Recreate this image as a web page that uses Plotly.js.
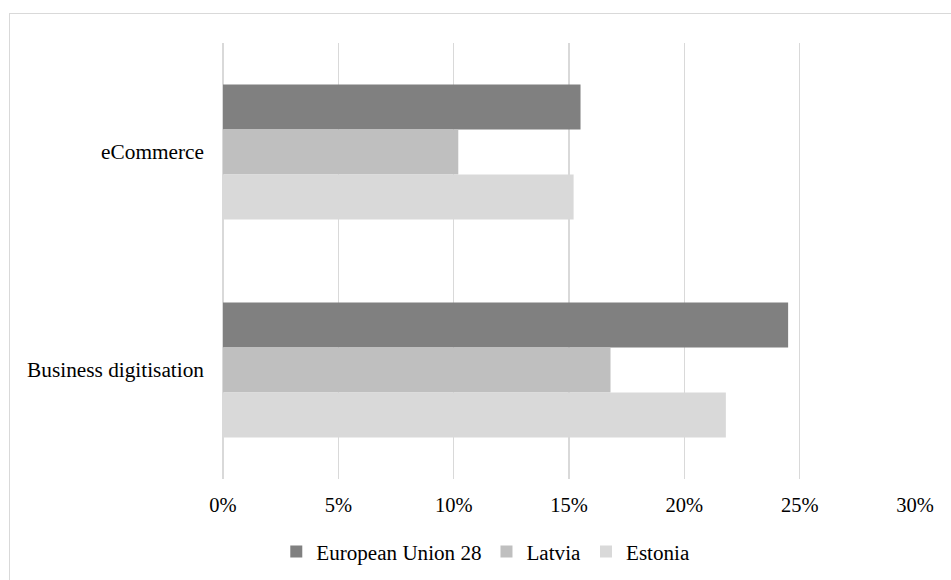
<!DOCTYPE html>
<html>
<head>
<meta charset="utf-8">
<script src="https://cdn.plot.ly/plotly-3.0.1.min.js"></script>
<style>
  html, body { margin: 0; padding: 0; background: #fff; }
  #wrap { position: relative; width: 951px; height: 580px; overflow: hidden; }
  #chart { position: absolute; left: 0; top: 0; width: 951px; height: 580px; }
  #frame { position: absolute; left: 9px; top: 13px; width: 1000px; height: 700px;
           border: 1.5px solid #d9d9d9; pointer-events: none; box-sizing: border-box; }
</style>
</head>
<body>
<div id="wrap">
  <div id="chart"></div>
  <div id="frame"></div>
</div>
<script>
const categories = ['eCommerce', 'Business digitisation'];
const seriesNames = ['European Union 28', 'Latvia', 'Estonia'];
const eu28 = [0.155, 0.245];
const latvia = [0.102, 0.168];
const estonia = [0.152, 0.218];
const tickVals = [0, 0.05, 0.10, 0.15, 0.20, 0.25, 0.30];
const tickText = ['0%', '5%', '10%', '15%', '20%', '25%', '30%'];

const colors = ['#808080', '#bfbfbf', '#d9d9d9'];
const values = [eu28, latvia, estonia];

const family = 'Liberation Serif, Times New Roman, serif';
const catFont = { family: family, size: 21.3, color: '#000' };
const legFont = { family: family, size: 21.1, color: '#000' };
const tickFont = { family: family, size: 20.5, color: '#000' };

const traces = values.map((v, i) => ({
  type: 'bar',
  orientation: 'h',
  name: seriesNames[i],
  y: categories,
  x: v,
  marker: { color: colors[i], line: { width: 0 } },
  hoverinfo: 'x+name'
}));

const layout = {
  width: 951,
  height: 580,
  margin: { l: 222.5, r: 35.5, t: 42.5, b: 101, pad: 0, autoexpand: false },
  paper_bgcolor: '#fff',
  plot_bgcolor: '#fff',
  font: catFont,
  barmode: 'group',
  bargap: 0.38,
  bargroupgap: 0,
  showlegend: true,
  legend: {
    orientation: 'h',
    x: 0.077,
    xanchor: 'left',
    y: -0.167,
    yanchor: 'middle',
    font: legFont,
    traceorder: 'normal',
    itemclick: false
  },
  xaxis: {
    range: [0, 0.30],
    tickvals: tickVals,
    ticktext: tickText,
    showgrid: true,
    gridcolor: '#d9d9d9',
    gridwidth: 1.5,
    zeroline: true,
    zerolinecolor: '#d9d9d9',
    zerolinewidth: 1.5,
    showline: false,
    ticks: '',
    ticklabelstandoff: 11,
    automargin: false,
    tickfont: tickFont,
    fixedrange: true
  },
  yaxis: {
    type: 'category',
    categoryorder: 'array',
    categoryarray: categories,
    autorange: 'reversed',
    showgrid: false,
    zeroline: false,
    showline: false,
    ticks: '',
    ticklabelstandoff: 18,
    automargin: false,
    tickfont: catFont,
    fixedrange: true
  }
};

Plotly.newPlot('chart', traces, layout, { displayModeBar: false, staticPlot: true });
</script>
</body>
</html>
